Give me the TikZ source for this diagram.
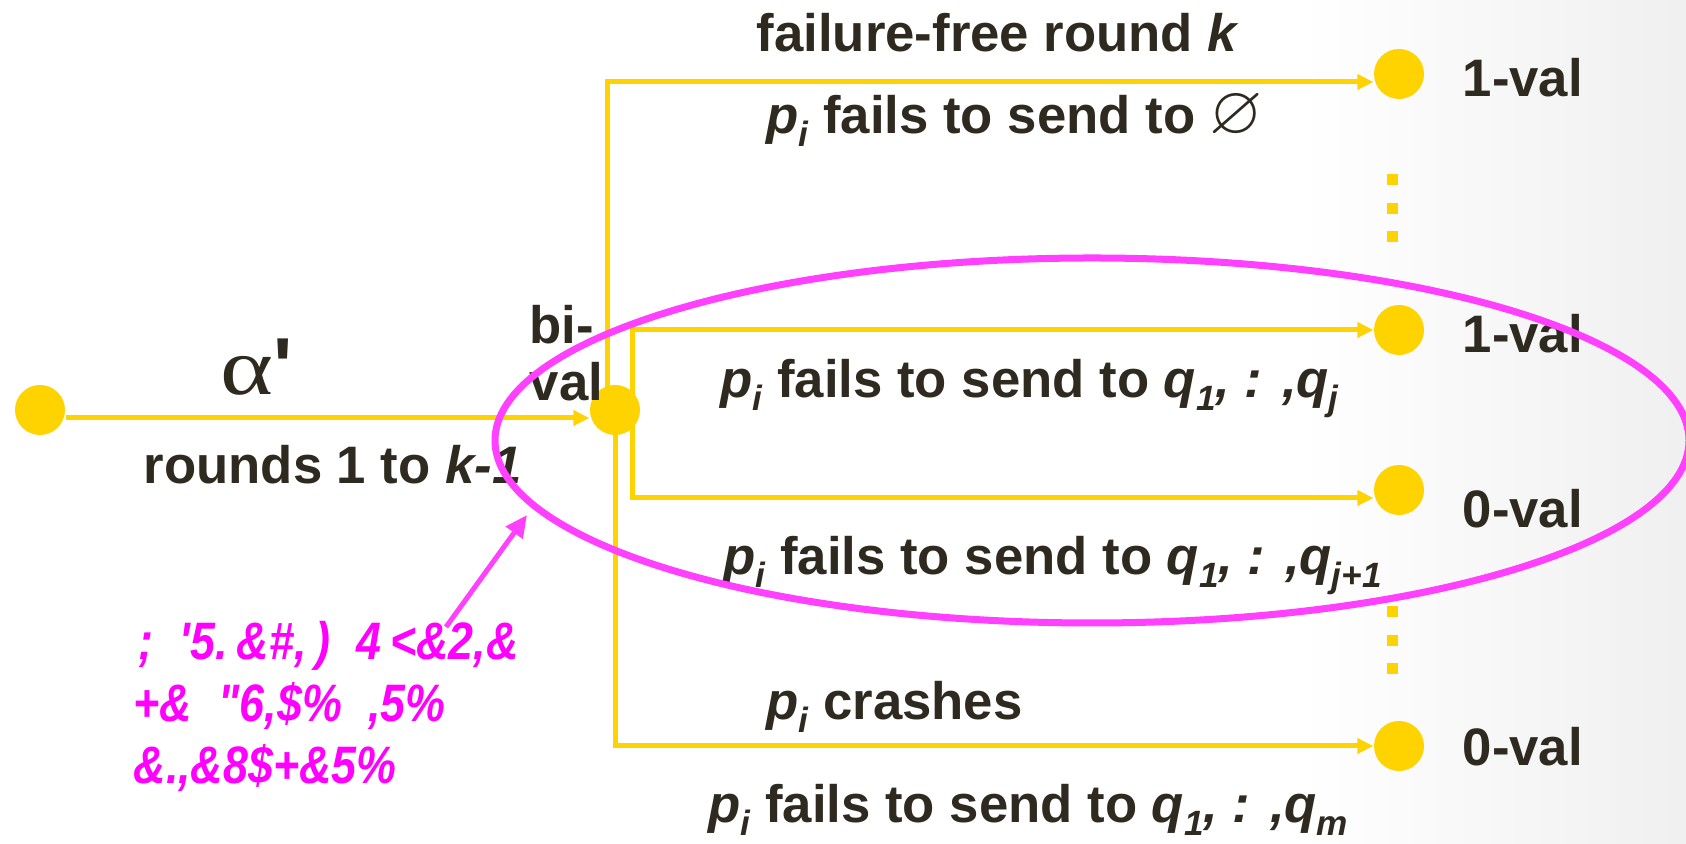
\documentclass[tikz,border=0pt]{standalone}
\usepackage{amssymb}
\usepackage{fontspec}
\setmainfont{Liberation Sans}
\newfontfamily\alphafont{Liberation Serif}
\newfontfamily\garblefont{Liberation Sans}[FakeStretch=0.85]
\usetikzlibrary{arrows.meta}
\definecolor{gold}{RGB}{255,211,0}
\definecolor{ink}{RGB}{47,42,32}
\definecolor{loopcol}{RGB}{255,64,255}
\definecolor{hintcol}{RGB}{255,0,255}
\newcommand{\sbs}[1]{\raisebox{-0.45ex}{\fontsize{10}{10}\selectfont\itshape #1}}

\begin{document}
\begin{tikzpicture}[
    dot/.style={circle, fill=gold, minimum size=0.5cm, inner sep=0pt},
    flow/.style={gold, line width=0.05cm, -{Triangle[length=0.16cm,width=0.15cm]}},
    lbl/.style={inner sep=0pt, anchor=base west, text=ink, font=\fontsize{15}{18}\selectfont\bfseries},
    garble/.style={inner sep=0pt, anchor=base west, text=hintcol, font=\garblefont\fontsize{15}{18}\selectfont\bfseries\itshape},
    vdots/.style={gold, line width=0.11cm, dash pattern=on 0.11cm off 0.175cm}]
  \useasboundingbox (0,0) rectangle (16.86,8.44);
  \clip (0,0) rectangle (16.86,8.44);
  \fill[white] (0,0) rectangle (16.86,8.44);
  \shade[left color=white, right color=black!6] (13,0) rectangle (16.86,8.44);

  % states
  \node[dot] (start) at (0.40,4.34) {};
  \node[dot] (bival) at (6.15,4.34) {};
  \node[dot] (oneA) at (13.99,7.70) {};
  \node[dot] (oneB) at (13.99,5.14) {};
  \node[dot] (zeroA) at (13.99,3.54) {};
  \node[dot] (zeroB) at (13.99,0.98) {};

  % transitions
  \draw[flow] ([yshift=-0.8mm]start.east) -- ([yshift=-0.8mm]bival.west);
  \draw[flow] ([xshift=-0.8mm]bival.center) |- ([yshift=-0.8mm]oneA.west);
  \draw[flow] ([xshift=1.7mm]bival.center) |- (oneB.west);
  \draw[flow] ([xshift=1.7mm]bival.center) |- ([yshift=-0.8mm]zeroA.west);
  \draw[flow] (bival.center) |- (zeroB.west);
  \draw[vdots] (13.92,6.695) -- (13.92,6.015);
  \draw[vdots] (13.92,2.375) -- (13.92,1.695);

  % labels
  \node[lbl] (alpha) at (2.20,4.49) {\fontsize{23}{27}\selectfont\scalebox{1.25}[1]{\mdseries\alphafont α}\textquotesingle};
  \node[lbl] (rounds) at (1.43,3.60) {rounds 1 to \textit{k-1}};
  \node[lbl] (bi) at (5.29,5.00) {bi-};
  \node[lbl] (val) at (5.29,4.43) {val};
  \node[lbl, anchor=base] (free) at (9.98,7.92) {failure-free round \textit{k}};
  \node[lbl] (none) at (7.66,7.10) {\textit{p}\sbs{i} fails to send to \scalebox{1.3}{$\varnothing$}};
  \node[lbl] (toj) at (7.20,4.46) {\textit{p}\sbs{i} fails to send to \textit{q}\sbs{1}\textit{, : ,q}\sbs{j}};
  \node[lbl] (tojj) at (7.23,2.69) {\textit{p}\sbs{i} fails to send to \textit{q}\sbs{1}\textit{, : ,q}\sbs{j+1}};
  \node[lbl] (crash) at (7.66,1.24) {\textit{p}\sbs{i} crashes};
  \node[lbl] (tom) at (7.08,0.21) {\textit{p}\sbs{i} fails to send to \textit{q}\sbs{1}\textit{, : ,q}\sbs{m}};
  \node[lbl] (valA) at (14.62,7.47) {1-val};
  \node[lbl] (valB) at (14.62,4.91) {1-val};
  \node[lbl] (valC) at (14.62,3.16) {0-val};
  \node[lbl] (valD) at (14.62,0.78) {0-val};

  % note
  \node[garble] (noteA) at (1.38,1.84) {;\enspace\char"27 5.\,\&\#,\,)\enspace4\,<\&2,\&};
  \node[garble] (noteB) at (1.33,1.22) {+\&\enspace\char"22 6,\$\%\enspace,5\%};
  \node[garble] (noteC) at (1.33,0.60) {\&.,\&8\$+\&5\%};
  \coordinate (noteTail) at (4.46,2.17);
  \coordinate (noteTip) at (5.27,3.29);
  \draw[loopcol, line width=0.05cm, -{Triangle[length=0.22cm,width=0.2cm]}] (noteTail) -- (noteTip);

  \draw[loopcol, line width=0.07cm] (10.92,4.035) ellipse (5.97 and 1.825);
\end{tikzpicture}
\end{document}
